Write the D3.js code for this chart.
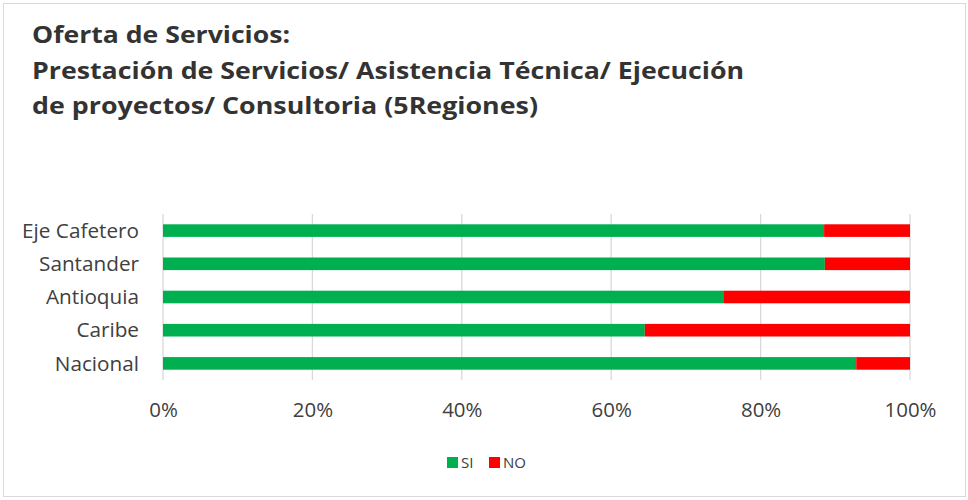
<!DOCTYPE html>
<html><head><meta charset="utf-8">
<script src="https://cdn.jsdelivr.net/npm/d3@7"></script>
<style>body{margin:0;background:#fff}svg{display:block}</style>
</head><body>
<script>
const titleLines = ["Oferta de Servicios:", "Prestación de Servicios/ Asistencia Técnica/ Ejecución", "de proyectos/ Consultoria (5Regiones)"];
const categories = ["Eje Cafetero", "Santander", "Antioquia", "Caribe", "Nacional"];
const siValues = [0.885, 0.886, 0.75, 0.645, 0.928];
const noValues = categories.map((c, i) => 1 - siValues[i]);
const seriesNames = ["SI", "NO"];
const seriesColors = ["#00B050", "#FF0000"];
const ticks = [0, 0.2, 0.4, 0.6, 0.8, 1.0];

const W = 968, H = 500;
const svg = d3.select("body").append("svg").attr("width", W).attr("height", H);
svg.append("rect").attr("x", 3.5).attr("y", 3.5).attr("width", 962).attr("height", 493)
  .attr("fill", "#fff").attr("stroke", "#d9d9d9").attr("stroke-width", 1);

const font = "'Open Sans', Lato, sans-serif";

function fitSize(text, weight, base, target) {
  const t = svg.append("text").attr("font-family", font).attr("font-weight", weight)
    .attr("font-size", base).text(text);
  const w = t.node().getComputedTextLength();
  t.remove();
  return base * target / w;
}

const titleTargets = [258, 712, 506];
const tg = svg.append("g");
titleLines.forEach((t, i) => {
  tg.append("text").attr("x", 32).attr("y", 43 + i * 35.5)
    .attr("font-family", font).attr("font-weight", "bold").attr("font-size", 23.5)
    .attr("fill", "#333333").text(t)
    .attr("textLength", titleTargets[i]).attr("lengthAdjust", "spacingAndGlyphs");
});

const x = d3.scaleLinear().domain([0, 1]).range([163, 910]);
const y = d3.scaleBand().domain(categories).range([214, 380]).paddingInner(0.62).paddingOuter(0.31);

const g = svg.append("g");
g.selectAll("line.grid").data(ticks).join("line")
  .attr("x1", d => x(d)).attr("x2", d => x(d)).attr("y1", 214).attr("y2", 380)
  .attr("stroke", "#d9d9d9").attr("stroke-width", 1.3);

const stackData = categories.map((c, i) => ({cat: c, SI: siValues[i], NO: noValues[i]}));
const stacked = d3.stack().keys(seriesNames)(stackData);
g.selectAll("g.series").data(stacked).join("g")
  .attr("fill", (d, i) => seriesColors[i])
  .selectAll("rect").data(d => d).join("rect")
  .attr("x", d => x(d[0])).attr("width", d => x(d[1]) - x(d[0]))
  .attr("y", d => y(d.data.cat)).attr("height", y.bandwidth());

const labelSize = fitSize("Eje Cafetero", "normal", 18, 117);
const tickSize = fitSize("100%", "normal", 18, 52);

const xAxis = d3.axisBottom(x).tickValues(ticks).tickFormat(d3.format(".0%")).tickSize(0).tickPadding(0);
const xa = svg.append("g").attr("transform", "translate(0,417)").call(xAxis);
xa.select(".domain").remove();
xa.selectAll("text").attr("font-family", font).attr("font-size", tickSize).attr("fill", "#404040").attr("dy", 0);

const yAxis = d3.axisLeft(y).tickSize(0).tickPadding(0);
const ya = svg.append("g").attr("transform", "translate(139,0)").call(yAxis);
ya.select(".domain").remove();
ya.selectAll("text").attr("font-family", font).attr("font-size", labelSize).attr("fill", "#404040").attr("dy", "0.35em");

const legSize = fitSize("NO", "normal", 15, 23);
const lg = svg.append("g");
const legX = [447, 489];
seriesNames.forEach((s, i) => {
  lg.append("rect").attr("x", legX[i]).attr("y", 457).attr("width", 11).attr("height", 11).attr("fill", seriesColors[i]);
  lg.append("text").attr("x", legX[i] + 14).attr("y", 468).attr("font-family", font).attr("font-size", legSize)
    .attr("fill", "#404040").text(s);
});
</script>
</body></html>
